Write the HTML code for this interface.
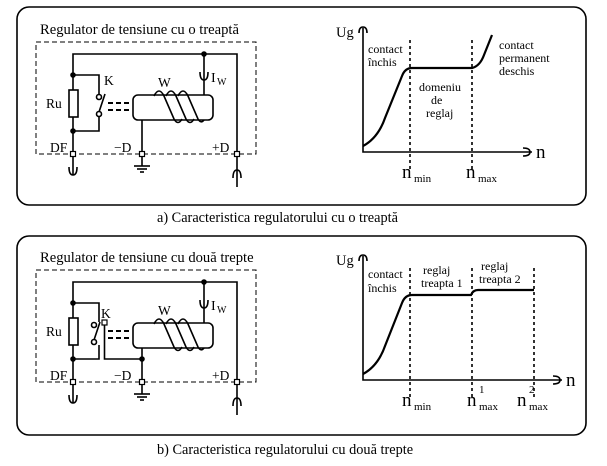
<!DOCTYPE html>
<html><head><style>
html,body{margin:0;padding:0;background:#fff;}
svg{display:block;}
text{font-family:"Liberation Serif",serif;fill:#000;}
</style></head><body>
<svg width="607" height="466" viewBox="0 0 607 466" xmlns="http://www.w3.org/2000/svg">
<defs>
<g id="circ" fill="none" stroke="#000" stroke-width="1.6">
  <rect x="36" y="42" width="220" height="112" stroke-dasharray="5,3" stroke-width="1"/>
  <polyline points="73,175 73,54 237,54 237,187"/>
  <circle cx="204" cy="54" r="2" fill="#000"/>
  <circle cx="73" cy="75" r="2" fill="#000"/>
  <circle cx="73" cy="131" r="2" fill="#000"/>
  <rect x="69" y="90" width="9" height="27" fill="#fff"/>
  <polyline points="73,75 99,75 99,94"/>
  <polyline points="73,131 99,131 99,117"/>
  <rect x="133" y="95" width="80" height="25" rx="5" fill="#fff"/>
  <path d="M154,96 Q159,86 164,96 L174,119 Q178,126 182,119 M166,96 Q171,86 176,96 L186,119 Q190,126 194,119 M178,96 Q183,86 188,96 L198,119 Q201,124 204,120"/>
  <line x1="204" y1="54" x2="204" y2="95"/>
  <path d="M200,72 Q200,80 204,80 Q208,80 208,72" />
  <line x1="142" y1="120" x2="142" y2="166"/>
  <line x1="134" y1="166" x2="150" y2="166"/>
  <line x1="137" y1="169" x2="147" y2="169"/>
  <line x1="140" y1="172" x2="144" y2="172"/>
  <path d="M69,167 Q69,175 73,175 Q77,175 77,167"/>
  <path d="M233,178 Q233,170 237,170 Q241,170 241,178"/>
  <rect x="70.5" y="151.5" width="5" height="5" fill="#fff" stroke-width="1.2"/>
  <rect x="139.5" y="151.5" width="5" height="5" fill="#fff" stroke-width="1.2"/>
  <rect x="234.5" y="151.5" width="5" height="5" fill="#fff" stroke-width="1.2"/>
  <g stroke-width="2"><line x1="108" y1="103" x2="113" y2="103"/><line x1="116" y1="103" x2="121" y2="103"/><line x1="124" y1="103" x2="129" y2="103"/>
  <line x1="108" y1="110" x2="113" y2="110"/><line x1="116" y1="110" x2="121" y2="110"/><line x1="124" y1="110" x2="129" y2="110"/></g>
</g>
</defs>
<rect x="17" y="7" width="569" height="198" rx="12" fill="none" stroke="#000" stroke-width="1.6"/>
<text x="40" y="34" font-size="14.6">Regulator de tensiune cu o treaptă</text>
<use href="#circ"/>
<g fill="none" stroke="#000" stroke-width="1.6">
  <circle cx="99" cy="97" r="2.5" fill="#fff"/><circle cx="99" cy="114" r="2.5" fill="#fff"/>
  <line x1="99" y1="112" x2="105" y2="94"/>
</g>
<text x="46" y="108" font-size="13.5">Ru</text>
<text x="104" y="85" font-size="13.5">K</text>
<text x="158" y="87" font-size="13.5">W</text>
<text x="211" y="82" font-size="14">I</text><text x="217" y="85" font-size="10">W</text>
<text x="50" y="152" font-size="13.5">DF</text>
<text x="114" y="152" font-size="13.5">−D</text>
<text x="212" y="152" font-size="13.5">+D</text>
<text x="157" y="222" font-size="14.3">a) Caracteristica regulatorului cu o treaptă</text>

<g fill="none" stroke="#000">
  <polyline points="363,28 363,152 532,152" stroke-width="1.6"/>
  <path d="M359,33 Q359,27 363,27 Q367,27 367,33" stroke-width="1.6"/>
  <path d="M523,148 Q530,148 530,152 Q530,156 523,156" stroke-width="1.6"/>
  <line x1="410" y1="40" x2="410" y2="172" stroke-dasharray="3,3" stroke-width="1.6"/>
  <line x1="472" y1="40" x2="472" y2="172" stroke-dasharray="3,3" stroke-width="1.6"/>
  <path d="M363,146 Q378,138 385,118 L402,76 Q405,68 412,68 L472,68 Q480,66 484,55 L492,35" stroke-width="2.2"/>
</g>
<text x="336" y="37" font-size="14.5">Ug</text>
<text x="368" y="53" font-size="12">contact</text>
<text x="368" y="66" font-size="12">închis</text>
<text x="419" y="91" font-size="12">domeniu</text>
<text x="431" y="104" font-size="12">de</text>
<text x="426" y="117" font-size="12">reglaj</text>
<text x="499" y="49" font-size="12">contact</text>
<text x="499" y="62" font-size="12">permanent</text>
<text x="499" y="75" font-size="12">deschis</text>
<text x="536" y="158" font-size="19">n</text>
<text x="402" y="178" font-size="19">n</text><text x="414" y="182" font-size="11">min</text>
<text x="466" y="178" font-size="19">n</text><text x="478" y="182" font-size="11">max</text>

<rect x="17" y="236" width="569" height="199" rx="12" fill="none" stroke="#000" stroke-width="1.6"/>
<text x="40" y="262" font-size="14.6">Regulator de tensiune cu două trepte</text>
<g transform="translate(0,228)">
<use href="#circ"/>
<g fill="none" stroke="#000" stroke-width="1.6">
  <circle cx="94" cy="97" r="2.5" fill="#fff"/><circle cx="94" cy="114" r="2.5" fill="#fff"/>
  <line x1="94" y1="112" x2="100" y2="94"/>
  <rect x="102" y="92" width="5" height="5" fill="#fff" stroke-width="1.2"/>
  <polyline points="104.5,97 104.5,131 142,131"/>
  <circle cx="142" cy="131" r="2" fill="#000"/>
</g>
<text x="46" y="108" font-size="13.5">Ru</text>
<text x="101" y="90" font-size="13.5">K</text>
<text x="158" y="87" font-size="13.5">W</text>
<text x="211" y="82" font-size="14">I</text><text x="217" y="85" font-size="10">W</text>
<text x="50" y="152" font-size="13.5">DF</text>
<text x="114" y="152" font-size="13.5">−D</text>
<text x="212" y="152" font-size="13.5">+D</text>
</g>
<text x="157" y="454" font-size="14.3">b) Caracteristica regulatorului cu două trepte</text>

<g fill="none" stroke="#000">
  <polyline points="363,256 363,380 562,380" stroke-width="1.6"/>
  <path d="M359,261 Q359,255 363,255 Q367,255 367,261" stroke-width="1.6"/>
  <path d="M553,376 Q560,376 560,380 Q560,384 553,384" stroke-width="1.6"/>
  <line x1="410" y1="268" x2="410" y2="400" stroke-dasharray="3,3" stroke-width="1.6"/>
  <line x1="472" y1="268" x2="472" y2="400" stroke-dasharray="3,3" stroke-width="1.6"/>
  <line x1="534" y1="268" x2="534" y2="400" stroke-dasharray="3,3" stroke-width="1.6"/>
  <path d="M363,374 Q378,366 385,346 L402,303 Q405,295 412,295 L471,295 Q473,290 478,290 L534,290" stroke-width="2.2"/>
</g>
<text x="336" y="265" font-size="14.5">Ug</text>
<text x="368" y="278" font-size="12">contact</text>
<text x="368" y="292" font-size="12">închis</text>
<text x="423" y="274" font-size="12">reglaj</text>
<text x="421" y="287" font-size="12">treapta 1</text>
<text x="481" y="270" font-size="12">reglaj</text>
<text x="479" y="283" font-size="12">treapta 2</text>
<text x="566" y="386" font-size="19">n</text>
<text x="402" y="406" font-size="19">n</text><text x="414" y="410" font-size="11">min</text>
<text x="467" y="406" font-size="19">n</text><text x="479" y="410" font-size="11">max</text><text x="479" y="393" font-size="11">1</text>
<text x="517" y="406" font-size="19">n</text><text x="529" y="410" font-size="11">max</text><text x="529" y="393" font-size="11">2</text>
</svg>
</body></html>
